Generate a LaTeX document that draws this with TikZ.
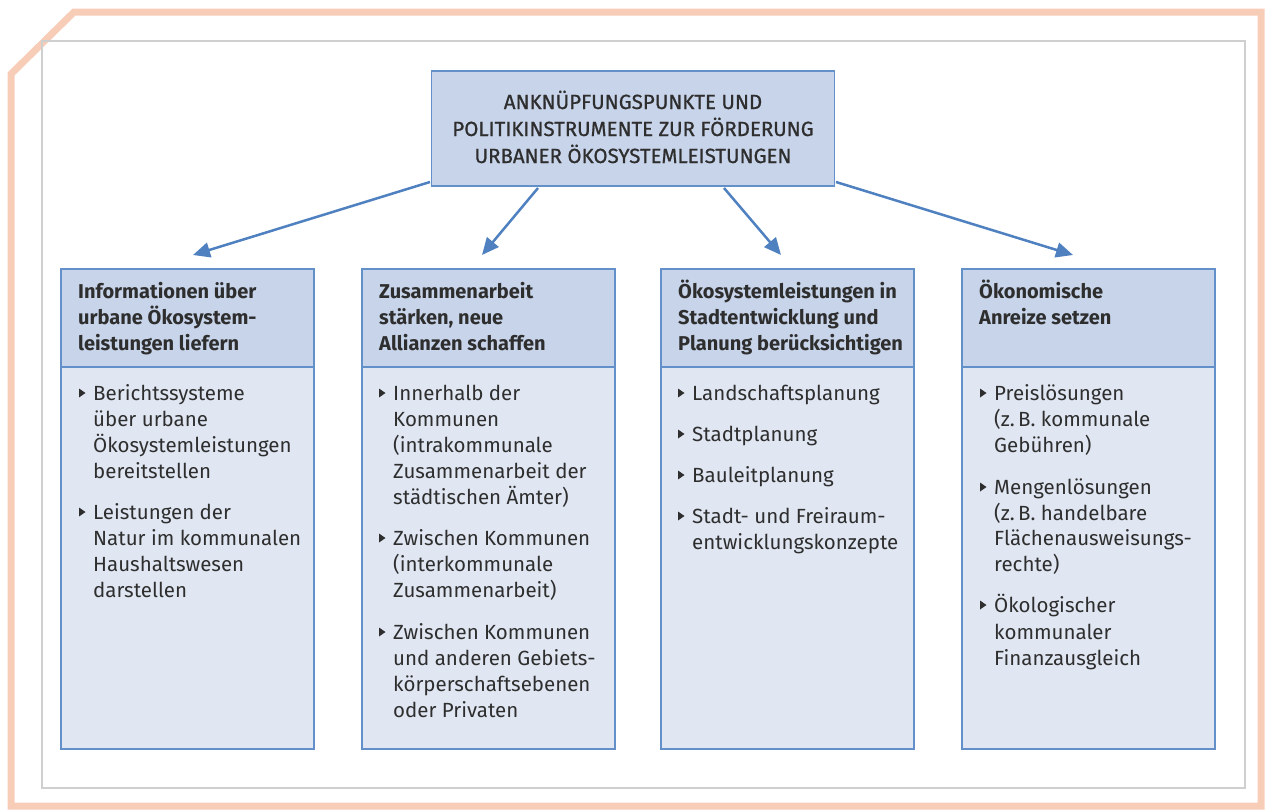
\documentclass[tikz,border=0pt]{standalone}
\usepackage{fontspec}
\setmainfont{Fira Sans}
\newfontfamily\titlefont[FakeBold=0.8]{Fira Sans}
\usetikzlibrary{arrows.meta}
\definecolor{frame}{HTML}{F8CDB8}
\definecolor{inner}{HTML}{CFCFCF}
\definecolor{boxline}{HTML}{6390C8}
\definecolor{headfill}{HTML}{C7D4EA}
\definecolor{bodyfill}{HTML}{E0E7F3}
\definecolor{arrowc}{HTML}{4F80BF}
\definecolor{txtc}{HTML}{2E2E2E}
\tikzset{
  boxst/.style={draw=boxline, line width=1.8pt},
  conn/.style={draw=arrowc, line width=2.5pt, -{Triangle[length=17pt,width=15pt]}, shorten >=0pt},
  txt/.style={inner sep=0pt, anchor=base west, text=txtc, font=\fontsize{20.5pt}{26pt}\selectfont},
  htxt/.style={txt, font=\fontsize{20pt}{26pt}\selectfont\bfseries},
  ttxt/.style={inner sep=0pt, anchor=base, text=txtc, font=\titlefont\fontsize{20.5pt}{27pt}\selectfont},
  bul/.style={fill=txtc},
}
\newcommand\bullitem[2]{%
  \fill[bul] (#1-14,#2-11.5) -- (#1-14,#2-2.5) -- (#1-7.5,#2-7) -- cycle;}
\begin{document}
\begin{tikzpicture}[x=1pt,y=-1pt]
\useasboundingbox (0,0) rectangle (1265,809);
% outer chamfered frame
\draw[frame, line width=7pt, line join=miter] (11,806) -- (11,74) -- (74,12) -- (1261,12) -- (1261,806) -- cycle;
% inner frame
\draw[inner, line width=1.2pt] (42,41) rectangle (1245,788);
% top box
\node[boxst, fill=headfill, minimum width=403pt, minimum height=115pt, inner sep=0pt] (top) at (633,128.5) {};
\node[ttxt] (t1) at (633,109) {ANKNÜPFUNGSPUNKTE UND};
\node[ttxt] (t2) at (633,136) {POLITIKINSTRUMENTE ZUR FÖRDERUNG};
\node[ttxt] (t3) at (633,163) {URBANER ÖKOSYSTEMLEISTUNGEN};
% columns
\foreach \c/\xl in {1/60,2/361,3/660,4/961}{
  \node[boxst, fill=bodyfill, anchor=north west, minimum width=253pt, minimum height=382pt, inner sep=0pt] (b\c) at (\xl,366) {};
  \node[boxst, fill=headfill, anchor=north west, minimum width=253pt, minimum height=98pt, inner sep=0pt] (h\c) at (\xl,268) {};
}
% headers
\foreach \t/\y [count=\i] in {{Informationen über}/298, {urbane Ökosystem-}/324, {leistungen liefern}/350}
  \node[htxt] (h1l\i) at (78,\y) {\t};
\foreach \t/\y [count=\i] in {{Zusammenarbeit}/298, {stärken, neue}/324, {Allianzen schaffen}/350}
  \node[htxt] (h2l\i) at (379,\y) {\t};
\foreach \t/\y [count=\i] in {{Ökosystemleistungen in}/298, {Stadtentwicklung und}/324, {Planung berücksichtigen}/350}
  \node[htxt] (h3l\i) at (678,\y) {\t};
\foreach \t/\y [count=\i] in {{Ökonomische}/298, {Anreize setzen}/324}
  \node[htxt] (h4l\i) at (979,\y) {\t};
% bodies
\foreach \t/\y/\bb [count=\i] in {{Berichtssysteme}/400/1, {über urbane}/426/0, {Ökosystemleistungen}/452/0, {bereitstellen}/478/0,
    {Leistungen der}/519/1, {Natur im kommunalen}/545/0, {Haushaltswesen}/571/0, {darstellen}/597/0}{
  \node[txt] (c1l\i) at (93,\y) {\t};
  \ifnum\bb=1 \bullitem{93}{\y} \fi
}
\foreach \t/\y/\bb [count=\i] in {{Innerhalb der}/400/1, {Kommunen}/426/0, {(intrakommunale}/452/0, {Zusammenarbeit der}/478/0, {städtischen Ämter)}/504/0,
    {Zwischen Kommunen}/545/1, {(interkommunale}/571/0, {Zusammenarbeit)}/597/0,
    {Zwischen Kommunen}/639/1, {und anderen Gebiets-}/665/0, {körperschaftsebenen}/691/0, {oder Privaten}/717/0}{
  \node[txt] (c2l\i) at (393,\y) {\t};
  \ifnum\bb=1 \bullitem{393}{\y} \fi
}
\foreach \t/\y/\bb [count=\i] in {{Landschaftsplanung}/400/1, {Stadtplanung}/441/1, {Bauleitplanung}/482/1,
    {Stadt- und Freiraum-}/523/1, {entwicklungskonzepte}/549/0}{
  \node[txt] (c3l\i) at (692,\y) {\t};
  \ifnum\bb=1 \bullitem{692}{\y} \fi
}
\foreach \t/\y/\bb [count=\i] in {{Preislösungen}/400/1, {(z.\,B. kommunale}/426/0, {Gebühren)}/452/0,
    {Mengenlösungen}/494/1, {(z.\,B. handelbare}/520/0, {Flächenausweisungs-}/545/0, {rechte)}/571/0,
    {Ökologischer}/612/1, {kommunaler}/639/0, {Finanzausgleich}/665/0}{
  \node[txt] (c4l\i) at (994,\y) {\t};
  \ifnum\bb=1 \bullitem{994}{\y} \fi
}
% connectors
\coordinate (a1) at (430,182);
\coordinate (a2) at (538,188);
\coordinate (a3) at (724,188);
\coordinate (a4) at (836,182);
\coordinate (e1) at (193,255);
\coordinate (e2) at (482,255);
\coordinate (e3) at (781,255);
\coordinate (e4) at (1073,255);
\draw[conn] (a1) -- (e1);
\draw[conn] (a2) -- (e2);
\draw[conn] (a3) -- (e3);
\draw[conn] (a4) -- (e4);
\end{tikzpicture}
\end{document}
